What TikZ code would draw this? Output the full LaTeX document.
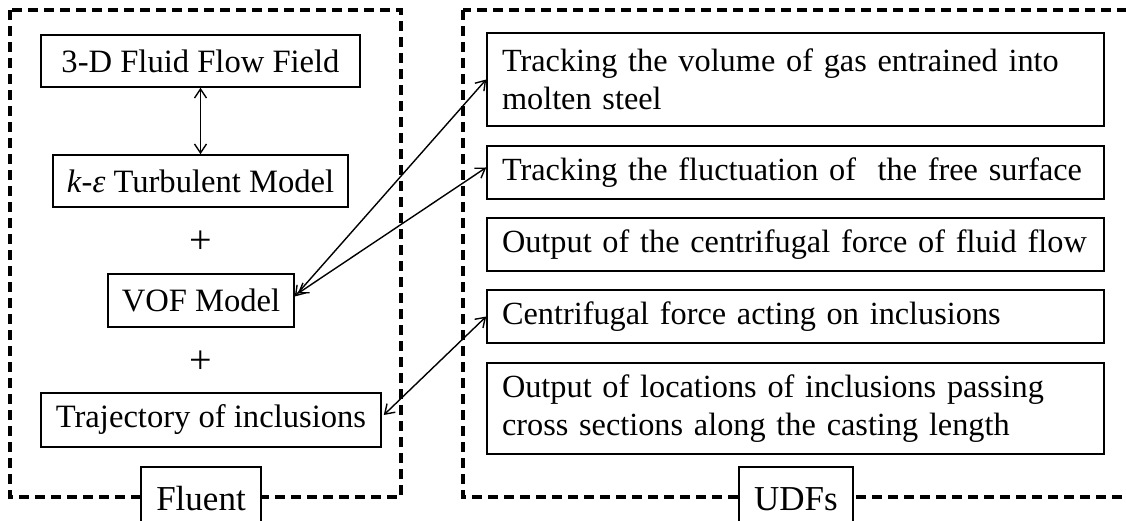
\documentclass[tikz,border=0pt]{standalone}
\usepackage{fontspec}
\setmainfont{Liberation Serif}
\usetikzlibrary{arrows.meta}
\begin{document}
\begin{tikzpicture}[x=1pt,y=-1pt,
  frame/.style={draw,line width=3.2pt,dash pattern=on 10pt off 6pt},
  lbox/.style={draw,line width=1.6pt,minimum width=#1,minimum height=53pt,inner sep=0pt,
     font=\fontsize{32.6}{38}\selectfont},
  rbox/.style={draw,line width=1.6pt,minimum width=617pt,minimum height=#1,inner xsep=15pt,inner ysep=0pt,
     text width=587pt,align=left,font=\fontsize{32.3}{38}\selectfont},
  tagbox/.style={draw,fill=white,line width=1.6pt,minimum width=#1,minimum height=64pt,inner sep=0pt,
     font=\fontsize{35}{40}\selectfont},
  plus/.style={font=\fontsize{40}{40}\selectfont,inner sep=0pt},
  conn/.style={line width=1.4pt,{Straight Barb[length=9pt,width=12pt]}-{Straight Barb[length=9pt,width=12pt]}}
]
\clip (0,0) rectangle (1126,521);
\useasboundingbox (0,0) rectangle (1126,521);
% dashed frames
\draw[frame] (10,10) rectangle (401,497);
\draw[frame] (463,10) rectangle (1140,497);
% left column
\node[lbox=319pt,minimum height=52pt] (ff) at (200.5,61) {3-D Fluid Flow Field};
\node[lbox=295pt,minimum height=52pt] (ke) at (200.5,181) {\textit{k}-\textit{ε} Turbulent Model};
\node[plus] (p1) at (201,242) {+};
\node[lbox=186pt] (vof) at (201,300.5) {VOF Model};
\node[plus] (p2) at (201,362) {+};
\node[lbox=340pt,minimum height=54pt] (tr) at (211,420) {Trajectory of inclusions};
% right column
\node[rbox=93pt] (b1) at (795.5,79.5) {Tracking the volume of gas entrained into molten steel};
\node[rbox=53pt] (b2) at (795.5,172.5) {Tracking the fluctuation of \ the free surface};
\node[rbox=53pt] (b3) at (795.5,244.5) {Output of the centrifugal force of fluid flow};
\node[rbox=53pt] (b4) at (795.5,316.5) {Centrifugal force acting on inclusions};
\node[rbox=91pt] (b5) at (795.5,408.5) {Output of locations of inclusions passing cross sections along the casting length};
% tags
\node[tagbox=120pt,anchor=north] (fl) at (201,466) {\raisebox{-6pt}{Fluent}};
\node[tagbox=114pt,anchor=north] (ud) at (796,466) {\raisebox{-6pt}{UDFs}};
% connectors
\draw[conn] (ff.south) -- (ke.north);
\draw[conn] ([yshift=4pt]vof.east) -- (b1.west);
\draw[conn] ([xshift=3pt,yshift=7pt]vof.east) -- ([yshift=5pt]b2.west);
\draw[conn] ([xshift=2pt,yshift=5pt]tr.east) -- (b4.west);
\end{tikzpicture}
\end{document}
